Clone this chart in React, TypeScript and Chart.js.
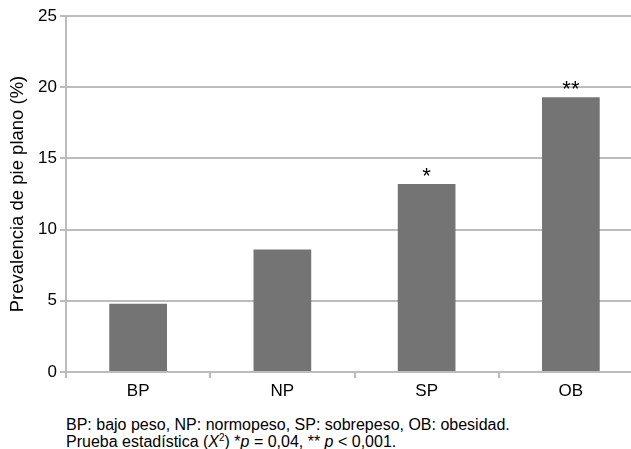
import React, { useEffect, useRef } from "react";
import { Chart, registerables } from "chart.js";

Chart.register(...registerables);

const categories = ["BP", "NP", "SP", "OB"];
const prevalence = [4.8, 8.6, 13.2, 19.3];
const significance = ["", "", "*", "**"];
const yMin = 0;
const yMax = 25;
const yStep = 5;
const yTitle = "Prevalencia de pie plano (%)";
const footnoteLine1 = "BP: bajo peso, NP: normopeso, SP: sobrepeso, OB: obesidad.";

const FONT = "'Liberation Sans', Arial, Helvetica, sans-serif";
const GRID = "#bcbcbc";

const starPlugin = {
  id: "stars",
  afterDatasetsDraw(chart: any) {
    const meta = chart.getDatasetMeta(0);
    const ctx = chart.ctx;
    ctx.save();
    ctx.font = `22px ${FONT}`;
    ctx.fillStyle = "#000";
    ctx.textAlign = "center";
    ctx.textBaseline = "alphabetic";
    meta.data.forEach((bar: any, i: number) => {
      const s = significance[i];
      if (!s) return;
      ctx.fillText(s, bar.x, bar.y - 1);
    });
    ctx.restore();
  },
};

export default function App() {
  const ref = useRef<HTMLCanvasElement | null>(null);

  useEffect(() => {
    if (!ref.current) return;
    const chart = new Chart(ref.current, {
      type: "bar",
      data: {
        labels: categories,
        datasets: [
          {
            data: prevalence,
            backgroundColor: "#747474",
            borderWidth: 0,
            categoryPercentage: 1,
            barPercentage: 0.4,
          },
        ],
      },
      options: {
        responsive: false,
        animation: false,
        devicePixelRatio: 1,
        layout: { padding: { top: 16, right: 1, left: 0, bottom: 0 } },
        plugins: {
          legend: { display: false },
          tooltip: { enabled: false },
        },
        scales: {
          x: {
            offset: true,
            grid: {
              display: true,
              drawOnChartArea: false,
              drawTicks: true,
              tickLength: 6,
              color: GRID,
              lineWidth: 2,
              offset: true,
            },
            border: { display: true, color: GRID, width: 2 },
            ticks: {
              color: "#000",
              font: { family: FONT, size: 17 },
              padding: 3,
            },
            afterFit(scale: any) {
              scale.height = 33;
            },
          },
          y: {
            min: yMin,
            max: yMax,
            ticks: {
              stepSize: yStep,
              color: "#000",
              font: { family: FONT, size: 17 },
              padding: 3,
            },
            grid: {
              color: GRID,
              lineWidth: 2,
              tickLength: 6,
              drawTicks: true,
            },
            border: { display: true, color: GRID, width: 2 },
            title: {
              display: true,
              text: yTitle,
              color: "#000",
              font: { family: FONT, size: 18.5 },
              padding: { top: 7, bottom: 0 },
            },
            afterFit(scale: any) {
              scale.width = 66;
            },
          },
        },
      },
      plugins: [starPlugin],
    });
    return () => chart.destroy();
  }, []);

  return (
    <div
      style={{
        position: "absolute",
        left: 0,
        top: 0,
        width: 631,
        height: 449,
        overflow: "hidden",
        background: "#fff",
      }}
    >
      <canvas ref={ref} width={644} height={405} style={{ display: "block" }} />
      <div
        style={{
          position: "absolute",
          left: 66,
          top: 416,
          fontFamily: FONT,
          fontSize: 16,
          lineHeight: "17px",
          color: "#000",
          whiteSpace: "nowrap",
        }}
      >
        <div>{footnoteLine1}</div>
        <div>
          Prueba estadística (<i>X</i>
          <sup style={{ fontSize: 10, verticalAlign: "top", lineHeight: "10px" }}>2</sup>) *<i>p</i> = 0,04, ** <i>p</i> &lt; 0,001.
        </div>
      </div>
    </div>
  );
}
